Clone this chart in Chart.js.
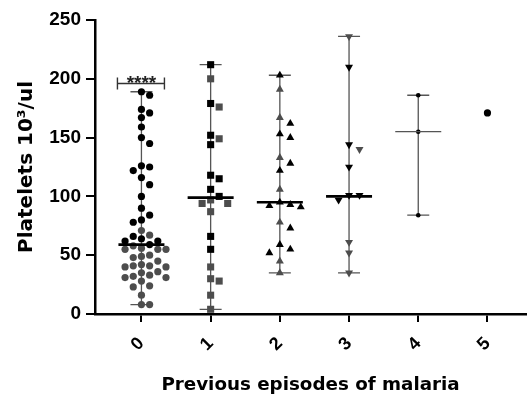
<!DOCTYPE html>
<html>
<head>
<meta charset="utf-8">
<script src="https://cdn.jsdelivr.net/npm/chart.js@4"></script>
<style>
  body { margin: 0; background: #fff; }
</style>
</head>
<body>
<canvas id="plateletChart" width="531" height="397"></canvas>
<script>
// previous malaria episodes on x, platelet counts (10^3/ul) on y
const categories = ['0', '1', '2', '3', '4', '5'];
const yTicks = [0, 50, 100, 150, 200, 250];

// black points per group
const darkValues = [
    [189, 186, 174, 171, 167, 159, 150, 145, 126, 125, 122, 116, 110, 100, 90, 84, 80, 78, 66, 64, 62, 62, 59],
    [212, 179, 152, 144, 118, 115, 106, 100, 66, 55],
    [203, 162, 153, 150, 128, 122, 95, 93, 92, 91, 73, 59, 55, 52],
    [210, 144, 125, 101, 101, 97],
    [186, 155, 84],
    [171]
];
// grey points per group
const greyValues = [
    [71, 67, 58, 56, 55, 55, 55, 50, 49, 48, 45, 42, 41, 41, 40, 40, 36, 35, 33, 32, 31, 31, 28, 24, 23, 16, 8, 8],
    [200, 176, 149, 97, 94, 94, 87, 40, 30, 28, 16, 4],
    [191, 167, 133, 106, 78, 45, 35],
    [236, 140, 61, 52, 35],
    [],
    []
];
const medians = [59, 99, 95, 100, 155, null];
const sigText = '****';
const sigValue = 196;

const pointStyles = ['circle', 'rect', 'triangle', 'triangle', 'circle', 'circle'];
const pointRotations = [0, 0, 0, 180, 0, 0];
const pointRadii = [3.6, 5, 4.6, 4.6, 2.3, 3.6];
const DARK = '#000000';
const GREY = '#4d4d4d';

// rough pixel scale, only used to spread the dots sideways
const PX_PER_Y = 294 / 250;
const PX_PER_CAT = 70;

function swarm(values, diam) {
    const order = values.map((v, k) => k).sort((a, b) => values[b] - values[a]);
    const placed = [];
    const out = new Array(values.length);
    order.forEach(k => {
        const y = values[k] * PX_PER_Y;
        for (let n = 0; n < 40; n++) {
            const dx = (n % 2 ? 1 : -1) * Math.ceil(n / 2) * diam * 1.15;
            if (placed.every(p => Math.hypot(p.x - dx, p.y - y) >= diam)) {
                placed.push({ x: dx, y: y });
                out[k] = dx / PX_PER_CAT;
                break;
            }
        }
    });
    return out;
}

const datasets = [];
categories.forEach((c, i) => {
    const all = darkValues[i].concat(greyValues[i]);
    const diam = pointStyles[i] === 'rect' ? 7.5 : pointRadii[i] * 2;
    const offs = swarm(all, diam);
    const nd = darkValues[i].length;
    [[darkValues[i], DARK, 0], [greyValues[i], GREY, nd]].forEach(([vals, col, start]) => {
        if (!vals.length) return;
        datasets.push({
            data: vals.map((v, k) => ({ x: i + offs[start + k], y: v })),
            pointStyle: pointStyles[i],
            rotation: pointRotations[i],
            pointRadius: pointRadii[i],
            backgroundColor: col,
            borderColor: col,
            borderWidth: 0
        });
    });
});

const rangeAndMedian = {
    id: 'rangeAndMedian',
    beforeDatasetsDraw(chart) {
        const ctx = chart.ctx, xs = chart.scales.x, ys = chart.scales.y;
        ctx.save();
        ctx.strokeStyle = '#555';
        ctx.lineWidth = 1.3;
        categories.forEach((c, i) => {
            const all = darkValues[i].concat(greyValues[i]);
            if (all.length < 2) return;
            const x = xs.getPixelForValue(i);
            const top = ys.getPixelForValue(Math.max(...all));
            const bot = ys.getPixelForValue(Math.min(...all));
            ctx.beginPath();
            ctx.moveTo(x, top); ctx.lineTo(x, bot);
            ctx.moveTo(x - 11, top); ctx.lineTo(x + 11, top);
            ctx.moveTo(x - 11, bot); ctx.lineTo(x + 11, bot);
            ctx.stroke();
        });
        ctx.restore();
    },
    afterDatasetsDraw(chart) {
        const ctx = chart.ctx, xs = chart.scales.x, ys = chart.scales.y;
        ctx.save();
        medians.forEach((m, i) => {
            if (m == null) return;
            const x = xs.getPixelForValue(i);
            const y = ys.getPixelForValue(m);
            ctx.strokeStyle = i === 4 ? '#555' : '#000';
            ctx.lineWidth = i === 4 ? 1.3 : 2.6;
            ctx.beginPath();
            ctx.moveTo(x - 23, y); ctx.lineTo(x + 23, y);
            ctx.stroke();
        });
        // significance bracket over group 0
        const x0 = xs.getPixelForValue(0);
        const yb = ys.getPixelForValue(sigValue);
        ctx.strokeStyle = '#333';
        ctx.lineWidth = 1.4;
        ctx.beginPath();
        ctx.moveTo(x0 - 24, yb + 6); ctx.lineTo(x0 - 24, yb - 6);
        ctx.moveTo(x0 - 24, yb); ctx.lineTo(x0 + 23, yb);
        ctx.moveTo(x0 + 23, yb + 6); ctx.lineTo(x0 + 23, yb - 6);
        ctx.stroke();
        ctx.fillStyle = '#222';
        ctx.font = 'bold 19px "Liberation Sans"';
        ctx.textAlign = 'center';
        ctx.textBaseline = 'alphabetic';
        ctx.fillText(sigText, x0, yb + 5);
        ctx.restore();
    }
};

new Chart(document.getElementById('plateletChart'), {
    type: 'scatter',
    data: { datasets: datasets },
    plugins: [rangeAndMedian],
    options: {
        responsive: false,
        animation: false,
        layout: { padding: { top: 20, right: 0, left: 0, bottom: 0 } },
        plugins: { legend: { display: false }, tooltip: { enabled: false } },
        scales: {
            x: {
                type: 'linear',
                min: -0.671,
                max: 5.557,
                afterFit: s => { s.height = 83; },
                border: { display: true, color: '#000', width: 2.5 },
                grid: { drawOnChartArea: false, drawTicks: true, tickLength: 8, color: '#000', lineWidth: 2 },
                ticks: {
                    stepSize: 1,
                    includeBounds: false,
                    autoSkip: false,
                    minRotation: 45,
                    maxRotation: 45,
                    padding: 11,
                    color: '#000',
                    font: { family: '"Liberation Sans", Arial', weight: 'bold', size: 18 },
                    callback: v => categories[v] ?? ''
                },
                title: {
                    display: true,
                    text: 'Previous episodes of malaria',
                    color: '#000',
                    font: { family: '"DejaVu Sans"', weight: 'bold', size: 18.3 },
                    padding: { top: 0, bottom: 1 }
                }
            },
            y: {
                min: 0,
                max: 250,
                afterFit: s => { s.width = 95; },
                afterBuildTicks: s => { s.ticks = yTicks.map(v => ({ value: v })); },
                border: { display: true, color: '#000', width: 2.5 },
                grid: { drawOnChartArea: false, drawTicks: true, tickLength: 9, color: '#000', lineWidth: 2 },
                ticks: {
                    padding: 5,
                    color: '#000',
                    font: { family: '"Liberation Sans", Arial', weight: 'bold', size: 19 }
                },
                title: {
                    display: true,
                    text: 'Platelets 10³/ul',
                    color: '#000',
                    font: { family: '"DejaVu Sans"', weight: 'bold', size: 20 },
                    padding: { top: 15, bottom: 0 }
                }
            }
        }
    }
});
</script>
</body>
</html>
